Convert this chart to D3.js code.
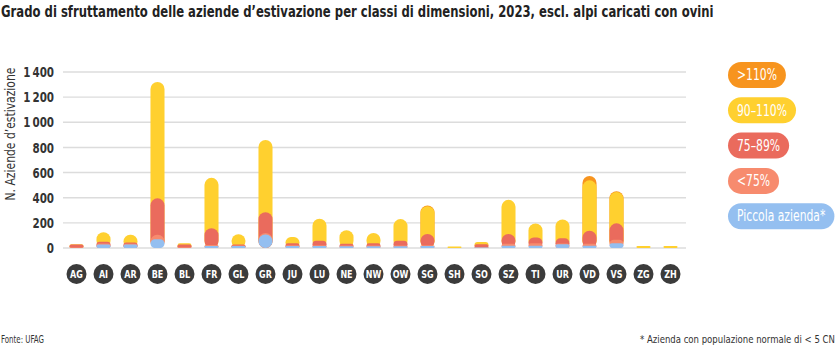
<!DOCTYPE html>
<html>
<head>
<meta charset="utf-8">
<script src="https://cdn.jsdelivr.net/npm/d3@7"></script>
<style>
  html, body { margin: 0; padding: 0; background: #fff; }
  svg { display: block; }
  text { font-family: "DejaVu Sans Condensed", "DejaVu Sans", sans-serif; }
</style>
</head>
<body>
<svg id="chart" width="836" height="358"></svg>
<script>
// ---- data ----
const categories = ["AG","AI","AR","BE","BL","FR","GL","GR","JU","LU","NE","NW","OW","SG","SH","SO","SZ","TI","UR","VD","VS","ZG","ZH"];
const seriesNames = ["Piccola azienda*", "<75%", "75–89%", "90–110%", ">110%"];
const piccola = [0, 28, 28, 70, 0, 15, 15, 108, 15, 15, 14, 14, 14, 15, 0, 3, 18, 18, 30, 18, 38, 0, 0];
const lt75    = [3, 7, 5, 35, 5, 8, 5, 12, 7, 7, 6, 6, 6, 6, 0, 5, 15, 20, 5, 15, 28, 0, 0];
const p75_89  = [25, 15, 10, 290, 22, 135, 8, 165, 15, 36, 14, 17, 38, 90, 0, 22, 78, 45, 42, 105, 130, 0, 0];
const p90_110 = [2, 75, 62, 925, 10, 400, 82, 575, 50, 175, 108, 83, 172, 222, 12, 18, 272, 112, 150, 400, 250, 15, 15];
const gt110   = [0, 0, 0, 0, 0, 0, 0, 0, 0, 0, 0, 0, 0, 5, 0, 0, 0, 0, 0, 35, 5, 0, 0];
const yTicks = [0, 200, 400, 600, 800, 1000, 1200, 1400];
const legendOrder = [">110%", "90–110%", "75–89%", "<75%", "Piccola azienda*"];
const colors = {
  "Piccola azienda*": "#94bff0",
  "<75%": "#f78b6e",
  "75–89%": "#ea6b5d",
  "90–110%": "#ffd02f",
  ">110%": "#f7941e"
};
const seriesValues = [piccola, lt75, p75_89, p90_110, gt110];

const svg = d3.select("#chart");

// ---- helper: condensed text = smaller font stretched vertically ----
function condText(parent, transform, size, opts) {
  const g = parent.append("g");
  const t = g.append("text").attr("font-size", size).text(opts.text);
  if (opts.weight) t.attr("font-weight", opts.weight);
  t.attr("fill", opts.fill || "#333");
  if (opts.anchor) t.attr("text-anchor", opts.anchor);
  if (opts.dy) t.attr("dy", opts.dy);
  const natural = t.node().getComputedTextLength();
  const f = opts.width ? opts.width / natural : opts.factor;
  t.attr("font-size", size * f);
  g.attr("transform", `${transform} scale(1,${1 / f})`);
  return {g, t, width: natural * f};
}

// ---- chart ----
const x = d3.scaleBand().domain(categories).range([63, 684]).paddingInner(0.48).paddingOuter(0.24);
const y = d3.scaleLinear().domain([0, 1400]).range([248, 72]);
const loc = d3.formatLocale({decimal: ".", thousands: "\u2009", grouping: [3], currency: ["", ""]});
const fmt = loc.format(",");

// title
condText(svg, "translate(1,16.5)", 16, {
  text: "Grado di sfruttamento delle aziende d\u2019estivazione per classi di dimensioni, 2023, escl. alpi caricati con ovini",
  weight: "bold", fill: "#222", width: 713
});

// grid
svg.append("g").selectAll("line").data(yTicks).join("line")
  .attr("x1", 63).attr("x2", 686)
  .attr("y1", d => y(d)).attr("y2", d => y(d))
  .attr("stroke", "#dcdcdc").attr("stroke-width", 1.4);

// y axis (ticks via d3 axis, labels condensed)
const yAxis = d3.axisLeft(y).tickValues(yTicks).tickFormat(fmt).tickSize(0).tickPadding(0);
const gy = svg.append("g").attr("transform", "translate(54,0)").call(yAxis);
gy.select(".domain").remove();
gy.selectAll(".tick text").each(function(d) {
  const tick = d3.select(this.parentNode);
  d3.select(this).remove();
  condText(tick, "translate(0,0)", 13.5, {text: fmt(d), weight: "bold", fill: "#333", anchor: "end", dy: "0.34em", factor: 0.85});
});
gy.attr("font-family", null);

condText(svg, "translate(15,134) rotate(-90)", 14, {
  text: "N. Aziende d\u2019estivazione", anchor: "middle", fill: "#333", width: 133
});

// bars: cumulative pills drawn from baseline, largest first
const stacks = categories.map((c, i) => {
  let acc = 0;
  return seriesNames.map((s, k) => { acc += seriesValues[k][i]; return {cat: c, series: s, top: acc, own: seriesValues[k][i]}; });
});
const bw = x.bandwidth();
const barsG = svg.append("g");
for (let k = seriesNames.length - 1; k >= 0; k--) {
  barsG.append("g").selectAll("rect")
    .data(stacks.map(st => st[k]).filter(d => d.own > 0))
    .join("rect")
    .attr("x", d => x(d.cat))
    .attr("width", bw)
    .attr("y", d => y(d.top))
    .attr("height", d => y(0) - y(d.top))
    .attr("rx", d => Math.min(bw / 2, (y(0) - y(d.top)) / 2))
    .attr("fill", colors[seriesNames[k]]);
}

// x labels as dark circles
const xl = svg.append("g").selectAll("g").data(categories).join("g")
  .attr("transform", d => `translate(${x(d) + bw / 2},274)`);
xl.append("circle").attr("r", 10).attr("fill", "#3b3b3b");
xl.each(function(d) {
  condText(d3.select(this), "translate(0,0)", 10.5, {text: d, weight: "bold", fill: "#fff", anchor: "middle", dy: "0.35em", factor: 0.85});
});

// legend pills
const lg = svg.append("g").selectAll("g").data(legendOrder).join("g")
  .attr("transform", (d, i) => `translate(728,${62 + i * 35.3})`);
lg.each(function(d) {
  const g = d3.select(this);
  const rect = g.append("rect").attr("height", 26).attr("rx", 13).attr("fill", colors[d]);
  const r = condText(g, "translate(9,13)", 15, {text: d, fill: "#fff", dy: "0.35em", factor: 0.8});
  rect.attr("width", Math.min(r.width + 18, 107));
});

// footer
condText(svg, "translate(1,343)", 11, {text: "Fonte: UFAG", fill: "#333", width: 43});
condText(svg, "translate(640,343)", 11, {text: "* Azienda con populazione normale di < 5 CN", fill: "#333", width: 195});
</script>
</body>
</html>
